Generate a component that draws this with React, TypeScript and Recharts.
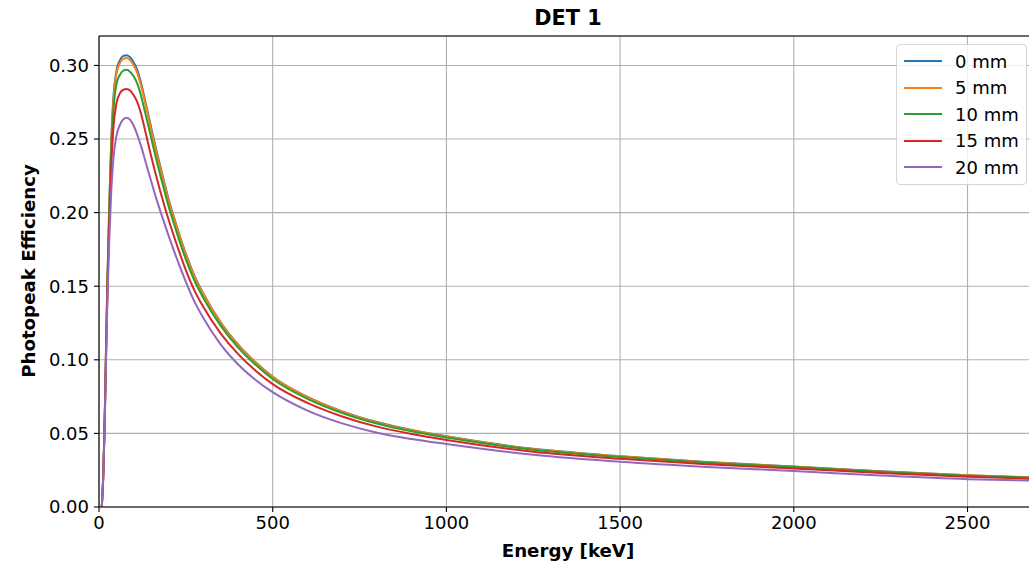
import { CartesianGrid, Line, LineChart, ReferenceLine, XAxis, YAxis } from "recharts";

// energy grid (keV) and photopeak efficiency per absorber thickness
const energy = [
  8, 12, 16, 20, 24, 29, 35, 42, 50, 60, 70, 80, 90, 100, 110, 120, 130, 140, 150, 165,
  180, 200, 215, 230, 250, 275, 300, 350, 400, 450, 500, 600, 700, 800, 900, 1000, 1250,
  1500, 1750, 2000, 2250, 2500, 2700,
];

const eff0 = [
  0, 0.02, 0.055, 0.105, 0.152, 0.2, 0.247, 0.28, 0.296, 0.3035, 0.3065, 0.307, 0.3055,
  0.302, 0.297, 0.289, 0.279, 0.2685, 0.258, 0.2425, 0.228, 0.2095, 0.1975, 0.186, 0.172,
  0.157, 0.145, 0.1255, 0.1105, 0.0985, 0.0885, 0.0748, 0.065, 0.0577, 0.0523, 0.048,
  0.0395, 0.0345, 0.0305, 0.0275, 0.0243, 0.0216, 0.02,
];
const eff5 = [
  0, 0.02, 0.055, 0.104, 0.151, 0.199, 0.245, 0.278, 0.294, 0.3015, 0.3045, 0.305, 0.3035,
  0.3, 0.295, 0.287, 0.2775, 0.267, 0.2565, 0.241, 0.2268, 0.2085, 0.1966, 0.1852, 0.1713,
  0.1564, 0.1445, 0.1252, 0.1102, 0.0982, 0.0883, 0.0746, 0.0648, 0.0575, 0.0522, 0.0479,
  0.0394, 0.0344, 0.0304, 0.0274, 0.0242, 0.0215, 0.0199,
];
const eff10 = [
  0, 0.02, 0.054, 0.103, 0.149, 0.195, 0.24, 0.271, 0.287, 0.2935, 0.2965, 0.297, 0.2955,
  0.2925, 0.2878, 0.2803, 0.2708, 0.261, 0.251, 0.236, 0.2222, 0.2045, 0.193, 0.1818,
  0.1683, 0.1537, 0.1422, 0.1232, 0.1085, 0.0968, 0.087, 0.0735, 0.0639, 0.0567, 0.0514,
  0.0472, 0.0389, 0.034, 0.0301, 0.0271, 0.024, 0.0213, 0.0197,
];
const eff15 = [
  0, 0.019, 0.053, 0.1, 0.145, 0.188, 0.23, 0.259, 0.274, 0.281, 0.2835, 0.284, 0.2828,
  0.2797, 0.2752, 0.268, 0.2585, 0.2485, 0.2385, 0.2245, 0.2115, 0.1955, 0.1845, 0.174,
  0.161, 0.147, 0.136, 0.118, 0.104, 0.0928, 0.0835, 0.0707, 0.0615, 0.0546, 0.0496,
  0.0455, 0.0376, 0.0328, 0.029, 0.0262, 0.0231, 0.0206, 0.0191,
];
const eff20 = [
  0, 0.019, 0.052, 0.097, 0.138, 0.178, 0.213, 0.238, 0.252, 0.2595, 0.2635, 0.2645,
  0.263, 0.259, 0.253, 0.246, 0.238, 0.2295, 0.2215, 0.2095, 0.1985, 0.1845, 0.1745,
  0.165, 0.153, 0.1395, 0.1285, 0.1105, 0.097, 0.0865, 0.078, 0.0655, 0.0568, 0.0505,
  0.0462, 0.0428, 0.0355, 0.0307, 0.0272, 0.0245, 0.0214, 0.0189, 0.0178,
];

const seriesKeys = ["d0", "d5", "d10", "d15", "d20"];
const seriesNames = ["0 mm", "5 mm", "10 mm", "15 mm", "20 mm"];
const seriesColors = ["#1f77b4", "#ff7f0e", "#2ca02c", "#d62728", "#9467bd"];
const seriesValues = [eff0, eff5, eff10, eff15, eff20];

const xTicks = [0, 500, 1000, 1500, 2000, 2500];
const yTicks = [0, 0.05, 0.1, 0.15, 0.2, 0.25, 0.3];

const data = energy.map((e, i) => {
  const row: Record<string, number> = { energy: e };
  seriesKeys.forEach((k, s) => {
    row[k] = seriesValues[s][i];
  });
  return row;
});

const FONT = "'DejaVu Sans', sans-serif";
const tickStyle = { fill: "#000", fontSize: 18, fontFamily: FONT };

export default function App() {
  return (
    <div
      style={{
        position: "absolute",
        left: 0,
        top: 0,
        width: 1029,
        height: 567,
        overflow: "hidden",
        background: "#fff",
        fontFamily: FONT,
      }}
    >
      <LineChart
        width={1050}
        height={567}
        data={data}
        margin={{ top: 36, right: 13, bottom: 0, left: 0 }}
      >
        <CartesianGrid stroke="#b0b0b0" strokeWidth={1.1} />
        <XAxis
          dataKey="energy"
          type="number"
          domain={[0, 2700]}
          ticks={xTicks}
          allowDataOverflow
          height={60}
          tick={tickStyle}
          tickSize={5}
          tickMargin={4}
          tickLine={{ stroke: "#000", strokeWidth: 1.1 }}
          axisLine={{ stroke: "#000", strokeWidth: 1.1 }}
        />
        <YAxis
          type="number"
          domain={[0, 0.32]}
          ticks={yTicks}
          allowDataOverflow
          width={99}
          tick={tickStyle}
          tickSize={5}
          tickMargin={5}
          tickFormatter={(v: number) => v.toFixed(2)}
          tickLine={{ stroke: "#000", strokeWidth: 1.1 }}
          axisLine={{ stroke: "#000", strokeWidth: 1.1 }}
        />
        <ReferenceLine y={0.32} stroke="#000" strokeWidth={1.1} />
        <ReferenceLine x={2700} stroke="#000" strokeWidth={1.1} />
        {seriesKeys.map((k, s) => (
          <Line
            key={k}
            dataKey={k}
            name={seriesNames[s]}
            type="monotone"
            stroke={seriesColors[s]}
            strokeWidth={2}
            dot={false}
            isAnimationActive={false}
          />
        ))}
      </LineChart>

      <div
        style={{
          position: "absolute",
          left: 468,
          width: 200,
          top: 6,
          textAlign: "center",
          fontWeight: "bold",
          fontSize: 20.8,
          lineHeight: "24px",
        }}
      >
        DET 1
      </div>
      <div
        style={{
          position: "absolute",
          left: 418,
          width: 300,
          top: 540,
          textAlign: "center",
          fontWeight: "bold",
          fontSize: 18.2,
          lineHeight: "22px",
        }}
      >
        Energy [keV]
      </div>
      <div
        style={{
          position: "absolute",
          left: 29 - 150,
          top: 271 - 11,
          width: 300,
          textAlign: "center",
          fontWeight: "bold",
          fontSize: 18.2,
          lineHeight: "22px",
          transform: "rotate(-90deg)",
        }}
      >
        Photopeak Efficiency
      </div>

      <div
        style={{
          position: "absolute",
          left: 896,
          top: 44,
          width: 131,
          height: 141,
          boxSizing: "border-box",
          border: "1px solid #d5d5d5",
          borderRadius: 4,
          background: "rgba(255,255,255,0.8)",
        }}
      >
        {seriesNames.map((n, s) => (
          <div
            key={n}
            style={{
              position: "absolute",
              left: 6,
              top: 3 + s * 26.5,
              height: 26,
              display: "flex",
              alignItems: "center",
              fontSize: 18,
            }}
          >
            <svg width={40} height={4} style={{ marginRight: 12 }}>
              <line x1={1} y1={2} x2={39} y2={2} stroke={seriesColors[s]} strokeWidth={2} />
            </svg>
            <span>{n}</span>
          </div>
        ))}
      </div>
    </div>
  );
}
